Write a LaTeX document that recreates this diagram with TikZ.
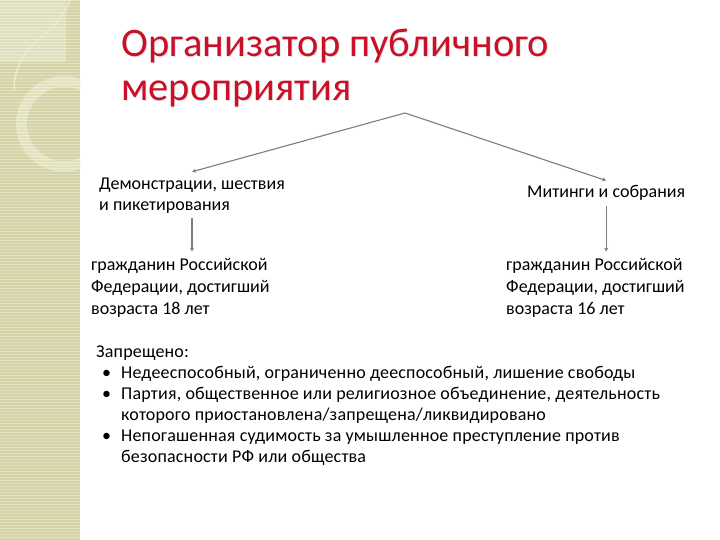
\documentclass[tikz,border=0pt]{standalone}
\usepackage{fontspec}
\setmainfont{Carlito}
\newfontfamily\banfont[LetterSpace=1]{Carlito}
\usetikzlibrary{arrows.meta}
\definecolor{titlered}{RGB}{200,16,40}
\definecolor{arrowgray}{RGB}{125,125,125}
\definecolor{panelolive}{RGB}{213,211,166}
\definecolor{panelstripe}{RGB}{232,231,206}
\definecolor{panelring}{RGB}{226,226,190}
\newcommand{\bul}{\hspace*{6pt}\makebox[19pt][l]{\textbullet}}
\newcommand{\cont}{\hspace*{25pt}}
\tikzset{
  txt/.style={inner sep=0pt,anchor=base west,align=left,font=\fontsize{18}{22}\selectfont},
  arr/.style={draw=arrowgray,line width=1.1pt,-{Stealth[length=4pt,width=4pt]}}
}
\begin{document}
\begin{tikzpicture}[x=1pt,y=1pt]
\useasboundingbox (0,0) rectangle (720,-540);
% left panel
\begin{scope}
\clip (0,0) rectangle (80,-540);
\fill[panelolive] (0,0) rectangle (80,-540);
\fill[panelstripe!60!panelolive] (0,0) rectangle (66,-62);
\fill[panelring,even odd rule] (64,-124) circle (48) (64,-124) circle (37);
\draw[panelstripe,line width=1.5pt] (70,0) .. controls (55,-40) and (15,-40) .. (14,-90);
\foreach \y in {0,3,...,540}
  \draw[white,opacity=0.35,line width=0.7pt] (0,-\y) -- (80,-\y);
\end{scope}
% title (base = last line)
\node(shadow) at (122,-102)[txt,text=black!25,opacity=0.4,font=\fontsize{40.5}{44}\selectfont]
  {Организатор публичного\\мероприятия};
\node(title) at (121,-101)[txt,text=titlered,font=\fontsize{40.5}{44}\selectfont]
  {Организатор публичного\\мероприятия};
\coordinate(apex) at (405,-113);
% branches
\node(demo) at (99,-211)[txt,font=\fontsize{18}{21.5}\selectfont]
  {Демонстрации, шествия\\и пикетирования};
\node(meet) at (527,-198)[txt]{Митинги и собрания};
\node(age18) at (91,-314)[txt]
  {гражданин Российской\\Федерации, достигший\\возраста 18 лет};
\node(age16) at (506,-314)[txt]
  {гражданин Российской\\Федерации, достигший\\возраста 16 лет};
% prohibitions
\node(ban) at (96,-462)[txt,font=\banfont\fontsize{18}{21}\selectfont]
  {Запрещено:\\
   \bul Недееспособный, ограниченно дееспособный, лишение свободы\\
   \bul Партия, общественное или религиозное объединение, деятельность\\
   \cont которого приостановлена/запрещена/ликвидировано\\
   \bul Непогашенная судимость за умышленное преступление против\\
   \cont безопасности РФ или общества};
\path
  (apex)                    edge[arr]  ([yshift=6pt]demo.north)
  (apex)                    edge[arr]  ([yshift=5pt]meet.north);
\draw[arr] ([yshift=-4pt]demo.south) -- ([yshift=6pt]demo.south |- age18.north);
\draw[arr] ([yshift=-5pt]meet.south) -- ([yshift=6pt]meet.south |- age16.north);
\end{tikzpicture}
\end{document}
